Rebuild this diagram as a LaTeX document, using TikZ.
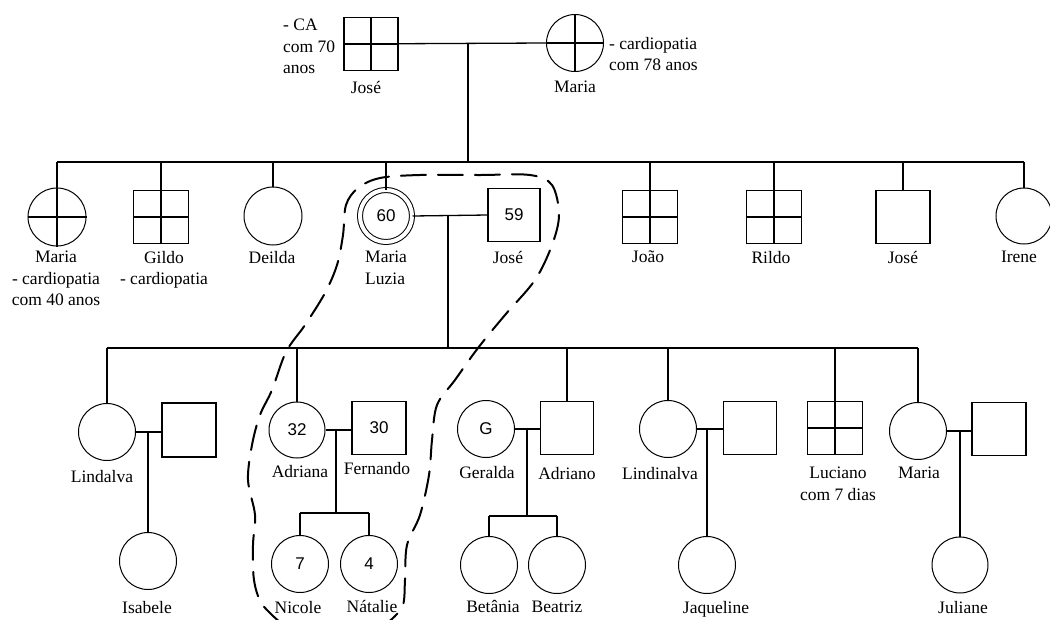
\documentclass[tikz,border=0pt]{standalone}
\usepackage{fontspec}
\setmainfont{Liberation Serif}
\newfontfamily\idadefont{Liberation Sans}
\begin{document}
\begin{tikzpicture}[
x=1pt, y=-1pt,
fem/.style={circle, draw, line width=1pt, minimum size=57pt, inner sep=0pt, font=\idadefont\fontsize{17}{19}\selectfont},
masc/.style={rectangle, draw, line width=1.3pt, minimum width=54pt, minimum height=53pt, inner sep=0pt, font=\idadefont\fontsize{17}{19}\selectfont},
nome/.style={inner sep=0pt, anchor=north, align=center, font=\fontsize{17.5}{21.5}\selectfont},
liga/.style={line width=1.3pt},
grupo/.style={line width=2pt, dash pattern=on 25pt off 12pt, line cap=round}
]
\useasboundingbox (0,0) rectangle (1050,619);

% avos
\node[masc] (jose) at (371,44) {};
\node[fem] (maria) at (575,43) {};
\draw[liga] (jose.west) -- (maria.west);
\coordinate (b1m) at (468,162);
\draw[liga] (b1m |- jose.west) -- (b1m);

% filhos
\node[fem, minimum size=58pt] (maria1) at (57,217) {};
\node[masc, minimum width=55pt] (gildo) at (161,217) {};
\node[fem, minimum size=58pt] (deilda) at (273,216) {};
\node[fem, double, double distance=4pt, minimum size=52pt] (mluzia) at (386,216) {60};
\node[masc, minimum width=52pt] (jose2) at (514,215) {59};
\node[masc, minimum width=55pt] (joao) at (650,217) {};
\node[masc, minimum width=55pt] (rildo) at (774,217) {};
\node[masc] (jose3) at (903,217) {};
\node[fem, minimum size=56pt] (irene) at (1024,216) {};

\draw[liga] (maria1.south |- b1m) -- (irene.north |- b1m);
\foreach \n in {deilda, mluzia, jose3, irene}
  \draw[liga] (\n.north) -- (\n.north |- b1m);
\foreach \n in {maria1, gildo, joao, rildo}
  \draw[liga] (\n.south) -- (\n.south |- b1m);

\draw[liga] (mluzia.east) -- (jose2.west);
\coordinate (b2m) at (448,348);
\draw[liga] (mluzia.east -| b2m) -- (b2m);

% netos
\node[fem] (lindalva) at (107,432) {};
\node[masc, minimum height=54pt] (conj1) at (189,430) {};
\node[fem] (isabele) at (148,561) {};
\node[fem, minimum size=56pt] (adriana) at (297,430) {32};
\node[masc] (fernando) at (379,428) {30};
\node[fem] (nicole) at (300,564) {7};
\node[fem] (natalie) at (369,564) {4};
\node[fem] (geralda) at (486,429) {G};
\node[masc, minimum width=53pt] (adriano) at (567,428) {};
\node[fem] (betania) at (489,565) {};
\node[fem] (beatriz) at (557,565) {};
\node[fem] (lindinalva) at (668,429) {};
\node[masc, minimum width=53pt] (conj2) at (750,428) {};
\node[fem] (jaqueline) at (707,565) {};
\node[masc, minimum width=55pt] (luciano) at (835,428) {};
\node[fem] (maria3) at (918,431) {};
\node[masc] (conj3) at (999,429) {};
\node[fem, minimum size=56pt] (juliane) at (960,565) {};

\draw[liga] (lindalva.north |- b2m) -- (maria3.north |- b2m);
\foreach \n in {lindalva, adriana, adriano, lindinalva, maria3}
  \draw[liga] (\n.north) -- (\n.north |- b2m);
\draw[liga] (luciano.south) -- (luciano.south |- b2m);

% cruzes
\foreach \n in {jose, maria, maria1, gildo, joao, rildo, luciano}{
  \draw[liga] (\n.north) -- (\n.south);
  \draw[liga] (\n.west) -- (\n.east);
}

% casais dos netos
\draw[liga] (lindalva.east) -- (lindalva.east -| conj1.west);
\draw[liga] (isabele.north |- lindalva.east) -- (isabele.north);

\draw[liga] (adriana.east) -- (adriana.east -| fernando.west);
\coordinate (b3) at (336,513);
\draw[liga] (b3 |- adriana.east) -- (b3);
\draw[liga] (nicole.north |- b3) -- (natalie.north |- b3);
\draw[liga] (nicole.north) -- (nicole.north |- b3);
\draw[liga] (natalie.north) -- (natalie.north |- b3);

\draw[liga] (geralda.east) -- (geralda.east -| adriano.west);
\coordinate (b4) at (527,516);
\draw[liga] (b4 |- geralda.east) -- (b4);
\draw[liga] (betania.north |- b4) -- (beatriz.north |- b4);
\draw[liga] (betania.north) -- (betania.north |- b4);
\draw[liga] (beatriz.north) -- (beatriz.north |- b4);

\draw[liga] (lindinalva.east) -- (lindinalva.east -| conj2.west);
\draw[liga] (jaqueline.north |- lindinalva.east) -- (jaqueline.north);

\draw[liga] (maria3.east) -- (maria3.east -| conj3.west);
\draw[liga] (juliane.north |- maria3.east) -- (juliane.north);

% nomes
\node[nome, anchor=north west, align=left] (tjose) at (283,19) {- CA\\com 70\\anos};
\node[nome] (njose) at (366,81) {José};
\node[nome] (nmaria) at (575,81) {Maria};
\node[nome, anchor=north west, align=left] (tmaria) at (609,37) {- cardiopatia\\com 78 anos};

\node[nome] (nmaria1) at (56,251) {Maria\\- cardiopatia\\com 40 anos};
\node[nome] (ngildo) at (164,251) {Gildo\\- cardiopatia};
\node[nome] (ndeilda) at (272,251) {Deilda};
\node[nome, anchor=north west, align=left] (nmluzia) at (365,251) {Maria\\Luzia};
\node[nome] (njose2) at (508,251) {José};
\node[nome] (njoao) at (648,251) {João};
\node[nome] (nrildo) at (771,251) {Rildo};
\node[nome] (njose3) at (903,251) {José};
\node[nome] (nirene) at (1019,251) {Irene};

\node[nome] (nlindalva) at (102,470) {Lindalva};
\node[nome] (nadriana) at (300,465) {Adriana};
\node[nome] (nfernando) at (377,462) {Fernando};
\node[nome] (ngeralda) at (487,466) {Geralda};
\node[nome] (nadriano) at (567,467) {Adriano};
\node[nome] (nlindinalva) at (660,467) {Lindinalva};
\node[nome] (nluciano) at (838,467) {Luciano\\com 7 dias};
\node[nome] (nmaria3) at (919,467) {Maria};

\node[nome] (nisabele) at (147,601) {Isabele};
\node[nome] (nnicole) at (298,601) {Nicole};
\node[nome] (nnatalie) at (372,600) {Nátalie};
\node[nome] (nbetania) at (493,600) {Betânia};
\node[nome] (nbeatriz) at (557,601) {Beatriz};
\node[nome] (njaqueline) at (716,601) {Jaqueline};
\node[nome] (njuliane) at (963,601) {Juliane};

% grupo tracejado
\draw[grupo] plot[smooth, tension=0.55] coordinates {
  (282,624) (262,604) (254,580) (253,545) (255,515) (248,480) (252,445)
  (260,415) (272,390) (286,352) (305,325) (325,293) (337,265) (343,235)
  (346,205) (358,188) (380,178) (420,175) (480,175) (530,175) (552,185)
  (559,215) (552,245) (535,280) (505,315) (478,348) (455,380) (437,405)
  (432,440) (429,475) (420,515) (407,545) (405,580) (403,605) (392,619)
  (383,625)};
\end{tikzpicture}
\end{document}
